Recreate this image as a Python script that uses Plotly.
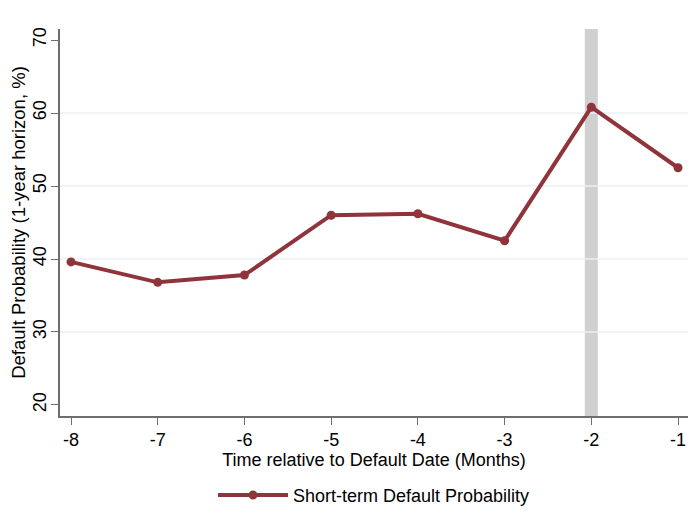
import plotly.graph_objects as go

# months relative to default, and the short-term default probability (%)
months = [-8, -7, -6, -5, -4, -3, -2, -1]
month_labels = ["-8", "-7", "-6", "-5", "-4", "-3", "-2", "-1"]
default_prob = [39.6, 36.8, 37.8, 46.0, 46.2, 42.5, 60.8, 52.5]

highlight_month = -2
grid_values = [30, 40, 50, 60]
y_ticks = [20, 30, 40, 50, 60, 70]

LINE_COLOR = "#8f343b"
AXIS_COLOR = "#6e6e6e"
FONT = "Arial, Liberation Sans, sans-serif"

fig = go.Figure()

fig.add_trace(
    go.Scatter(
        x=months,
        y=default_prob,
        mode="lines+markers",
        name="Short-term Default Probability",
        line=dict(color=LINE_COLOR, width=4),
        marker=dict(color=LINE_COLOR, size=9),
    )
)

# shaded month before default
fig.add_vrect(
    x0=highlight_month - 0.075,
    x1=highlight_month + 0.075,
    fillcolor="#d0d0d0",
    line_width=0,
    layer="below",
)

# light grid lines (Stata style: none at the axis ends)
for g in grid_values:
    fig.add_shape(
        type="line", xref="paper", x0=0, x1=1, y0=g, y1=g,
        line=dict(color="#eaf1f3", width=1.5), layer="below",
    )

# page body has an 8px margin, so the figure is 8px smaller than the window
fig.update_layout(
    width=688,
    height=519,
    margin=dict(l=52, r=8, t=21, b=111, autoexpand=False),
    paper_bgcolor="white",
    plot_bgcolor="white",
    font=dict(family=FONT, size=18, color="black"),
    showlegend=True,
    legend=dict(
        orientation="h",
        x=0.5,
        xanchor="center",
        y=-0.205,
        yanchor="middle",
        font=dict(size=18),
        itemwidth=70,
    ),
)

fig.update_xaxes(
    range=[-8.127, -0.885],
    tickvals=months,
    ticktext=month_labels,
    ticks="outside",
    ticklen=7,
    tickcolor=AXIS_COLOR,
    showline=True,
    linecolor=AXIS_COLOR,
    linewidth=1.5,
    showgrid=False,
    zeroline=False,
    automargin=False,
    title=dict(text="Time relative to Default Date (Months)", standoff=0, font=dict(size=18)),
)

fig.update_yaxes(
    range=[18.49, 71.51],
    tickvals=y_ticks,
    tickangle=-90,
    ticks="outside",
    ticklen=7,
    tickcolor=AXIS_COLOR,
    showline=True,
    linecolor=AXIS_COLOR,
    linewidth=1.5,
    showgrid=False,
    zeroline=False,
    automargin=False,
    ticklabelstandoff=-2,
    title=dict(text="Default Probability (1-year horizon, %)", standoff=2, font=dict(size=18.5)),
)

fig.write_html("out.html")
